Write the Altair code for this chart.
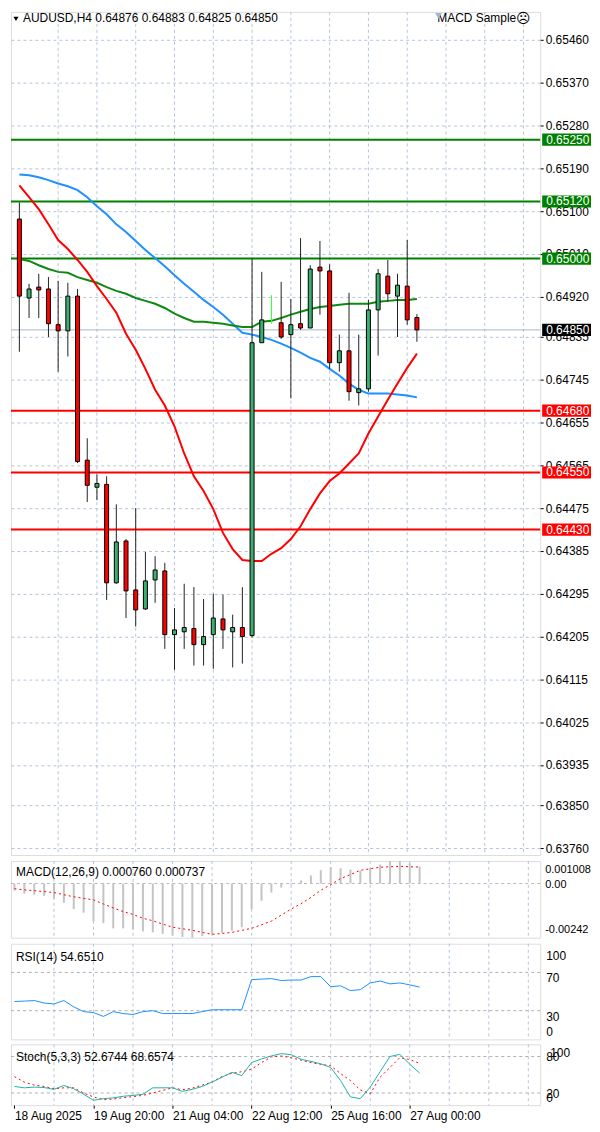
import altair as alt
import pandas as pd

FONT = "Liberation Sans"
W = 531
H_MAIN, H_MACD, H_RSI, H_STO = 846, 77, 96, 61

# ---------------- data ----------------
bars = list(range(42))
opens = [0.65083, 0.64917, 0.64940, 0.64936, 0.64861, 0.64848, 0.64921, 0.64576, 0.64519, 0.64525,
         0.64318, 0.64406, 0.64303, 0.64263, 0.64324, 0.64343, 0.64209, 0.64215, 0.64222, 0.64188,
         0.64209, 0.64242, 0.64215, 0.64224, 0.64207, 0.64823, 0.64870, 0.64865, 0.64840, 0.64863,
         0.64854, 0.64982, 0.64974, 0.64781, 0.64806, 0.64718, 0.64726, 0.64892, 0.64963, 0.64921,
         0.64942, 0.64876]
highs = [0.65118, 0.64947, 0.64968, 0.64961, 0.64953, 0.64949, 0.64936, 0.64622, 0.64546, 0.64542,
         0.64483, 0.64410, 0.64475, 0.64383, 0.64374, 0.64360, 0.64265, 0.64316, 0.64309, 0.64284,
         0.64295, 0.64293, 0.64251, 0.64309, 0.64999, 0.64972, 0.64923, 0.64951, 0.64915, 0.65043,
         0.64986, 0.65037, 0.64988, 0.64840, 0.64928, 0.64840, 0.64913, 0.64978, 0.64997, 0.64968,
         0.65039, 0.64883]
lows = [0.64804, 0.64875, 0.64875, 0.64835, 0.64762, 0.64794, 0.64570, 0.64488, 0.64492, 0.64282,
        0.64316, 0.64244, 0.64226, 0.64261, 0.64276, 0.64179, 0.64135, 0.64179, 0.64144, 0.64144,
        0.64137, 0.64179, 0.64140, 0.64148, 0.64203, 0.64823, 0.64863, 0.64831, 0.64706, 0.64850,
        0.64854, 0.64882, 0.64768, 0.64762, 0.64701, 0.64691, 0.64720, 0.64796, 0.64909, 0.64835,
        0.64861, 0.64825]
closes = [0.64921, 0.64936, 0.64934, 0.64863, 0.64848, 0.64921, 0.64573, 0.64523, 0.64527, 0.64318,
          0.64404, 0.64301, 0.64261, 0.64322, 0.64345, 0.64209, 0.64219, 0.64224, 0.64188, 0.64205,
          0.64244, 0.64219, 0.64224, 0.64205, 0.64823, 0.64871, 0.64870, 0.64835, 0.64861, 0.64854,
          0.64978, 0.64974, 0.64781, 0.64806, 0.64720, 0.64726, 0.64892, 0.64968, 0.64926, 0.64944,
          0.64871, 0.64850]

ma_red = [0.65154, 0.65129, 0.65104, 0.65072, 0.65039, 0.65020, 0.64997, 0.64972, 0.64942, 0.64915,
          0.64886, 0.64842, 0.64808, 0.64768, 0.64724, 0.64691, 0.64647, 0.64590, 0.64542, 0.64511,
          0.64473, 0.64423, 0.64389, 0.64366, 0.64364, 0.64364, 0.64379, 0.64391, 0.64410, 0.64437,
          0.64473, 0.64506, 0.64532, 0.64548, 0.64569, 0.64590, 0.64632, 0.64668, 0.64703, 0.64737,
          0.64770, 0.64800]
ma_blue = [0.65177, 0.65175, 0.65171, 0.65165, 0.65158, 0.65152, 0.65144, 0.65129, 0.65110, 0.65093,
           0.65072, 0.65056, 0.65037, 0.65018, 0.65001, 0.64984, 0.64965, 0.64947, 0.64930, 0.64913,
           0.64898, 0.64882, 0.64863, 0.64844, 0.64840, 0.64835, 0.64829, 0.64821, 0.64812, 0.64802,
           0.64791, 0.64783, 0.64768, 0.64754, 0.64737, 0.64724, 0.64716, 0.64716, 0.64716, 0.64714,
           0.64712, 0.64708]
ma_green = [0.64999, 0.64995, 0.64986, 0.64978, 0.64972, 0.64970, 0.64961, 0.64955, 0.64949, 0.64940,
            0.64932, 0.64926, 0.64917, 0.64911, 0.64905, 0.64896, 0.64884, 0.64875, 0.64867, 0.64867,
            0.64865, 0.64863, 0.64859, 0.64856, 0.64856, 0.64867, 0.64869, 0.64875, 0.64882, 0.64888,
            0.64894, 0.64898, 0.64900, 0.64903, 0.64905, 0.64905, 0.64905, 0.64909, 0.64911, 0.64913,
            0.64913, 0.64915]

macd_hist = [-0.00032, -0.00045, -0.00050, -0.00055, -0.00068, -0.00086, -0.00114, -0.00130, -0.00168, -0.00177,
             -0.00200, -0.00200, -0.00205, -0.00214, -0.00218, -0.00225, -0.00232, -0.00238, -0.00242, -0.00235,
             -0.00228, -0.00220, -0.00210, -0.00195, -0.00114, -0.00077, -0.00040, -0.00018, -0.00005, 0.00014,
             0.00036, 0.00060, 0.00073, 0.00068, 0.00062, 0.00058, 0.00070, 0.00085, 0.00100, 0.001008,
             0.00090, 0.00076]
macd_signal = [-0.00023, -0.00028, -0.00032, -0.00036, -0.00040, -0.00050, -0.00059, -0.00066, -0.00073, -0.00091,
               -0.00109, -0.00125, -0.00138, -0.00155, -0.00166, -0.00181, -0.00195, -0.00202, -0.00209, -0.00218,
               -0.00227, -0.00223, -0.00218, -0.00209, -0.00200, -0.00184, -0.00168, -0.00141, -0.00114, -0.00090,
               -0.00062, -0.00030, -0.00005, 0.00022, 0.00040, 0.00059, 0.00066, 0.00073, 0.00075, 0.00077,
               0.00075, 0.000737]
rsi = [39.6, 40.0, 40.6, 38.0, 37.0, 40.6, 34.0, 29.0, 28.0, 24.0,
       29.0, 27.0, 26.0, 29.0, 30.0, 27.0, 27.0, 27.0, 27.0, 29.0,
       31.0, 31.0, 31.0, 31.0, 62.5, 63.0, 63.5, 61.5, 62.0, 62.0,
       65.6, 65.6, 55.0, 56.0, 51.0, 52.0, 59.0, 61.0, 58.0, 59.0,
       57.0, 54.651]
stoch_main = [30.8, 28.5, 29.7, 29.0, 26.0, 32.4, 27.0, 18.0, 8.0, 10.7,
              12.0, 14.6, 16.0, 17.8, 28.5, 28.5, 28.5, 22.7, 26.0, 30.8,
              38.0, 45.9, 54.0, 48.6, 70.0, 76.0, 81.0, 84.8, 83.0, 75.5,
              72.0, 68.0, 62.0, 40.5, 13.5, 10.7, 29.7, 55.0, 80.0, 83.6,
              67.4, 52.6744]
stoch_signal = [47.0, 37.8, 33.0, 30.8, 27.0, 28.5, 28.5, 20.0, 13.5, 9.0,
                10.0, 12.3, 14.0, 16.2, 20.0, 24.3, 28.5, 25.3, 28.0, 33.0,
                37.8, 47.0, 52.4, 55.0, 59.3, 70.0, 79.4, 81.0, 78.0, 74.0,
                70.0, 67.0, 64.8, 52.0, 40.5, 25.0, 18.8, 45.9, 62.0, 78.3,
                75.0, 68.6574]

green_levels = [0.65250, 0.65120, 0.65000]
red_levels = [0.64680, 0.64550, 0.64430]
last_price = 0.64850
price_ticks = [0.65460, 0.65370, 0.65280, 0.65190, 0.65100, 0.65010, 0.64920, 0.64835, 0.64745, 0.64655,
               0.64565, 0.64475, 0.64385, 0.64295, 0.64205, 0.64115, 0.64025, 0.63935, 0.63850, 0.63760]
grid_x = list(range(4, 53, 4))
date_ticks = [0, 8, 16, 24, 32, 40]
date_labels = ["18 Aug 2025", "19 Aug 20:00", "21 Aug 04:00", "22 Aug 12:00", "25 Aug 16:00", "27 Aug 00:00"]
header = "AUDUSD,H4  0.64876 0.64883 0.64825 0.64850"
macd_title = "MACD(12,26,9) 0.000760 0.000737"
rsi_title = "RSI(14) 54.6510"
stoch_title = "Stoch(5,3,3) 52.6744 68.6574"
macd_labels = ["0.001008", "0.00", "-0.00242"]
rsi_labels = ["100", "70", "30", "0"]
stoch_labels = ["100", "80", "20", "0"]

# ---------------- tables ----------------
kind = ["doji" if o == c else ("up" if c > o else "down") for o, c in zip(opens, closes)]
candles = pd.DataFrame({"i": bars, "o": opens, "h": highs, "l": lows, "c": closes, "kind": kind})
mas = pd.DataFrame({"i": bars, "red": ma_red, "blue": ma_blue, "green": ma_green})
ind = pd.DataFrame({"i": bars, "hist": macd_hist, "zero": [0.0] * len(bars), "sig": macd_signal, "rsi": rsi,
                    "st": stoch_main, "ss": stoch_signal})
gridx = pd.DataFrame({"g": grid_x})
levels = pd.DataFrame({"p": green_levels + red_levels + [last_price],
                       "col": ["#008000"] * 3 + ["#ff0000"] * 3 + ["#000000"]})
lines_lv = levels.iloc[:6]
one = pd.DataFrame({"a": [0]})

GRID = "#b4c4dc"
xscale = alt.Scale(domain=[-0.35, 53.2], nice=False, zero=False)
X = alt.X("i:Q", scale=xscale, axis=None)
pscale = alt.Scale(domain=[0.637455, 0.655188], nice=False, zero=False)
paxis = alt.Axis(orient="right", values=price_ticks, format=".5f", grid=True, gridDash=[3, 3],
                 gridColor=GRID, gridWidth=1, domain=False, tickSize=3, tickColor="#000",
                 labelFont=FONT, labelFontSize=12, labelColor="#000", labelPadding=2,
                 labelOverlap=False, labelFlush=False, labelBound=False, title=None)


def PY(f):
    return alt.Y(f, type="quantitative", scale=pscale, axis=paxis)


def vgrid():
    return alt.Chart(gridx).mark_rule(color=GRID, strokeDash=[3, 3], strokeWidth=1).encode(
        x=alt.X("g:Q", scale=xscale, axis=None))


def txt(s, x, y, align="left", size=12, color="#000", font=FONT, baseline="middle"):
    return alt.Chart(one).mark_text(align=align, baseline=baseline, font=font, fontSize=size,
                                    color=color).encode(x=alt.value(x), y=alt.value(y), text=alt.value(s))


# ---------------- main panel ----------------
cur_line = alt.Chart(pd.DataFrame({"p": [last_price]})).mark_rule(color="#a8b8cc", strokeWidth=1).encode(y=PY("p"))
lv_lines = alt.Chart(lines_lv).mark_rule(strokeWidth=2).encode(y=PY("p"), color=alt.Color("col:N", scale=None))
ma_layers = [
    alt.Chart(mas).mark_line(color=c, strokeWidth=2).encode(x=X, y=PY(f), order="i:Q")
    for f, c in [("blue", "#1e90ff"), ("green", "#118811"), ("red", "#ff0000")]
]
wicks = alt.Chart(candles).transform_filter("datum.kind != 'doji'").mark_rule(
    color="#222", strokeWidth=1).encode(x=X, y=PY("l"), y2="h:Q")
doji = alt.Chart(candles).transform_filter("datum.kind == 'doji'").mark_rule(
    color="#33ff33", strokeWidth=1).encode(x=X, y=PY("l"), y2="h:Q")
bodies = alt.Chart(candles).transform_filter("datum.kind != 'doji'").mark_bar(
    width=4, stroke="#000", strokeWidth=1).encode(
    x=X, y=PY("o"), y2="c:Q",
    color=alt.Color("kind:N", scale=alt.Scale(domain=["up", "down"], range=["#3cae6e", "#ff0000"]), legend=None))
boxes = alt.Chart(levels).transform_calculate(
    hi="datum.p + 0.000128", lo="datum.p - 0.000128"
).mark_rect(strokeWidth=0).encode(
    x=alt.value(533), x2=alt.value(582), y=PY("hi"), y2="lo:Q", color=alt.Color("col:N", scale=None))
box_txt = alt.Chart(levels).mark_text(align="left", baseline="middle", font=FONT, fontSize=12,
                                      color="white").encode(
    x=alt.value(537), y=PY("p"), text=alt.Text("p:Q", format=".5f"))
tri_left = alt.Chart(one).mark_point(shape="triangle-down", filled=True, color="#000", size=26,
                                     strokeWidth=0, opacity=1).encode(x=alt.value(5), y=alt.value(7))
tri_top = alt.Chart(one).mark_point(shape="triangle-down", filled=True, color="#a4b6d2", size=45,
                                    strokeWidth=0, opacity=1).encode(x=alt.value(429), y=alt.value(4))

main = alt.layer(
    vgrid(), cur_line, lv_lines, *ma_layers, wicks, doji, bodies, boxes, box_txt,
    tri_left, txt(header, 12, 1, baseline="top"), txt("MACD Sample", 507, 1, align="right", baseline="top"),
    txt("\u2639", 514, 0, align="center", size=14, font="DejaVu Sans", baseline="top"), tri_top,
).properties(width=W, height=H_MAIN)

# ---------------- MACD panel ----------------
mscale = alt.Scale(domain=[-0.00242, 0.001008], nice=False, zero=False)
MY = lambda f: alt.Y(f, type="quantitative", scale=mscale, axis=None)
macd = alt.layer(
    vgrid(),
    alt.Chart(pd.DataFrame({"z": [0.0]})).mark_rule(color="#b8b8b8", strokeDash=[3, 3]).encode(y=MY("z")),
    alt.Chart(ind).mark_rule(color="#c4c4c4", strokeWidth=2).encode(x=X, y=MY("hist"), y2="zero:Q"),
    alt.Chart(ind).mark_line(color="#ff0000", strokeWidth=1, strokeDash=[2, 3]).encode(x=X, y=MY("sig"), order="i:Q"),
    txt(macd_title, 5, 11),
    txt(macd_labels[0], 536, 9, size=11), txt(macd_labels[1], 536, 24, size=11),
    txt(macd_labels[2], 536, 69, size=11),
).properties(width=W, height=H_MACD)

# ---------------- RSI panel ----------------
rscale = alt.Scale(domain=[0, 100], nice=False, zero=False)
RY = lambda f: alt.Y(f, type="quantitative", scale=rscale, axis=None)
rsi_lv = pd.DataFrame({"v": [70, 30]})
rsi_p = alt.layer(
    vgrid(),
    alt.Chart(rsi_lv).mark_rule(color="#b0b0b0", strokeDash=[3, 3]).encode(y=RY("v")),
    alt.Chart(ind).mark_line(color="#1e90ff", strokeWidth=1).encode(x=X, y=RY("rsi"), order="i:Q"),
    txt(rsi_title, 5, 13),
    txt(rsi_labels[0], 537, 12), txt(rsi_labels[1], 537, 34), txt(rsi_labels[2], 537, 74), txt(rsi_labels[3], 537, 89),
).properties(width=W, height=H_RSI)

# ---------------- Stochastic panel ----------------
label_expr = ":".join(f"datum.value=={t}?'{l}'" for t, l in zip(date_ticks, date_labels)) + ":''"
xaxis = alt.Axis(values=date_ticks, labelExpr=label_expr, labelAlign="left", labelFont=FONT, labelFontSize=12,
                 labelColor="#000", tickSize=3, tickColor="#000", domain=False, grid=False, title=None,
                 labelPadding=2, labelOverlap=False, labelFlush=False, labelBound=False)
XB = alt.X("i:Q", scale=xscale, axis=xaxis)
sto_lv = pd.DataFrame({"v": [80, 20]})
sto = alt.layer(
    alt.Chart(gridx).mark_rule(color=GRID, strokeDash=[3, 3], strokeWidth=1).encode(
        x=alt.X("g:Q", scale=xscale, axis=xaxis)),
    alt.Chart(sto_lv).mark_rule(color="#b0b0b0", strokeDash=[3, 3]).encode(y=RY("v")),
    alt.Chart(ind).mark_line(color="#ff0000", strokeWidth=1, strokeDash=[2, 3]).encode(x=XB, y=RY("ss"), order="i:Q"),
    alt.Chart(ind).mark_line(color="#20b2aa", strokeWidth=1).encode(x=XB, y=RY("st"), order="i:Q"),
    txt(stoch_title, 5, 13),
    txt(stoch_labels[0], 541, 9), txt(stoch_labels[1], 537, 13),
    txt(stoch_labels[2], 537, 50), txt(stoch_labels[3], 537, 54),
).properties(width=W, height=H_STO)

chart = alt.vconcat(main, macd, rsi_p, sto, spacing=3).properties(
    padding={"left": 1, "top": 1, "right": 0, "bottom": 0}
).configure_view(stroke="#000", strokeWidth=1, fill="white").configure(background="white")

chart.save("out.html", embed_options={"renderer": "svg", "actions": False})
